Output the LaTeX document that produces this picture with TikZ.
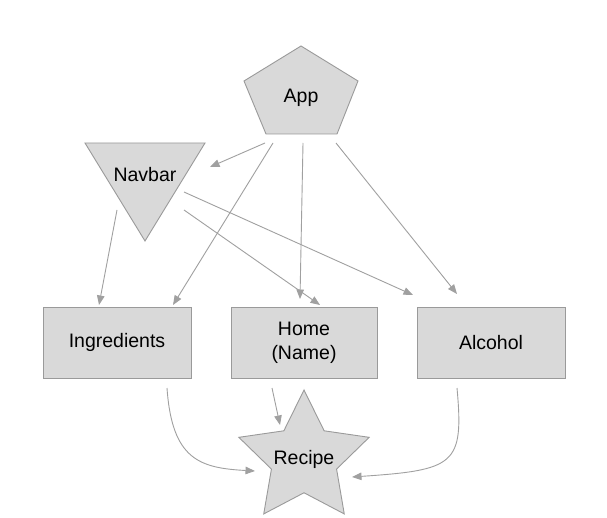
\documentclass[tikz,border=0pt]{standalone}
\usepackage{fontspec}
\setmainfont{Liberation Sans}
\usetikzlibrary{shapes.geometric,arrows.meta}
\definecolor{shapefill}{HTML}{D9D9D9}
\definecolor{shapeline}{HTML}{9A9A9A}
\definecolor{linkcol}{HTML}{A0A0A0}
\begin{document}
\begin{tikzpicture}[x=1pt,y=-1pt,
  lbl/.style={font=\fontsize{19.5}{24}\selectfont, text=black, align=center, inner sep=0pt},
  boxnode/.style={lbl, draw=shapeline, fill=shapefill, line width=0.9pt, minimum height=71pt},
  shapeborder/.style={draw=shapeline, fill=shapefill, line width=0.9pt, line join=miter},
  link/.style={draw=linkcol, line width=0.9pt, -{Triangle[length=9.5pt,width=7.5pt]}, line cap=butt}
]
\useasboundingbox (0,0) rectangle (607,518);
\fill[white] (0,0) rectangle (607,518);

% App pentagon
\coordinate (appc) at (301,96);
\draw[shapeborder] ([shift={(0,-50)}]appc) -- ([shift={(57,-15)}]appc) -- ([shift={(36,38)}]appc)
  -- ([shift={(-35,38)}]appc) -- ([shift={(-57,-15)}]appc) -- cycle;
\node[lbl] (app) at ([shift={(0,1.5)}]appc) {App};

% Navbar triangle
\coordinate (navc) at (145,175);
\draw[shapeborder] ([shift={(-60,-32)}]navc) -- ([shift={(60,-32)}]navc) -- ([shift={(0,66)}]navc) -- cycle;
\node[lbl] (navbar) at (navc) {Navbar};

% Boxes
\node[boxnode, minimum width=148pt] (ing) at (117,342.5) {Ingredients};
\node[boxnode, minimum width=146pt] (home) at (304,342.5) {Home\\(Name)};
\node[boxnode, minimum width=148pt] (alc) at (491,342.5) {Alcohol};

% Recipe star
\node[shapeborder, star, star points=5, star point ratio=2.0, minimum size=137pt, inner sep=0pt] (recipe) at (304,458.5) {};
\node[lbl] at ([shift={(0,1)}]recipe.center) {Recipe};

% Connectors from App
\draw[link] ([shift={(-36,45.5)}]app.center) -- ([shift={(65,-8)}]navbar.center);
\draw[link] ([shift={(-28,45.5)}]app.center) -- ([shift={(56,-37.5)}]ing.center);
\draw[link] ([shift={(2,45.5)}]app.center) -- ([shift={(-4,-43.5)}]home.center);
\draw[link] ([shift={(35,45.5)}]app.center) -- ([shift={(-34,-48.5)}]alc.center);

% Connectors from Navbar
\draw[link] ([shift={(-28,35)}]navbar.center) -- ([shift={(-18,-37.5)}]ing.center);
\draw[link] ([shift={(39,17)}]navbar.center) -- ([shift={(-78,-47.5)}]alc.center);
\draw[link] ([shift={(39,35)}]navbar.center) -- ([shift={(16,-37.5)}]home.center);

% Connectors to Recipe
\draw[link] ([shift={(50,45.5)}]ing.center) .. controls +(5,72) and +(-55,-3) .. ([shift={(-49,12.5)}]recipe.center);
\draw[link] ([shift={(-32,45.5)}]home.center) -- ([shift={(-24,-33.5)}]recipe.center);
\draw[link] ([shift={(-34,45.5)}]alc.center) .. controls +(7,77) and +(103,-7) .. ([shift={(48,18.5)}]recipe.center);
\end{tikzpicture}
\end{document}
